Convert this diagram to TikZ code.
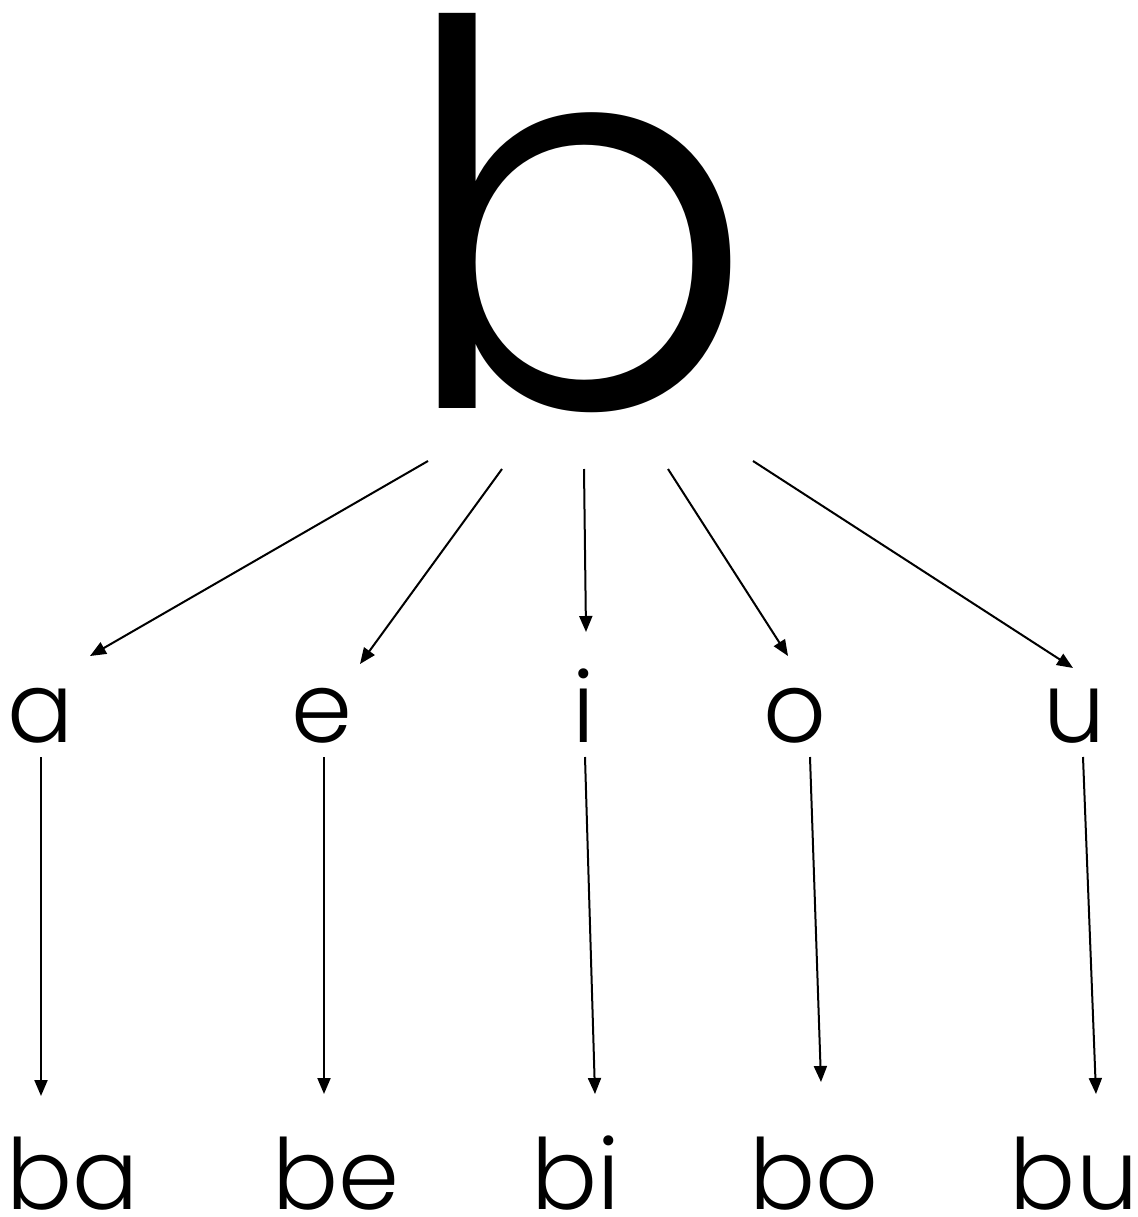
\documentclass[tikz,border=0pt]{standalone}
\usepackage{fontspec}
\setmainfont{Poppins}[UprightFont=* Light]
\usetikzlibrary{arrows.meta}
\tikzset{
  >={Triangle[length=16pt,width=13pt]},
  syl/.style={inner sep=0pt,anchor=base,font=\fontsize{98}{98}\selectfont},
  root/.style={inner sep=0pt,anchor=base,font=\fontsize{534}{534}\selectfont},
  edge/.style={->,line width=2pt},
}
\begin{document}
\begin{tikzpicture}[x=1pt,y=-1pt]
  \useasboundingbox (0,0) rectangle (1137,1217);
  \node[root] (b) at (577,408) {b};
  % vowels and syllables
  \foreach \v/\x/\bx in {a/41/73,e/322/336,i/584/576,o/795/814,u/1075/1074} {
    \node[syl] (\v) at (\x,742) {\v};
    \node[syl] (b\v) at (\bx,1209) {b\v};
  }
  % arrows from b to the vowels
  \foreach \v/\sx/\sy/\ex/\ey in {a/428/461/90/656,e/502/469/360/664,i/584/469/586/632,o/668/469/788/656,u/753/461/1073/668} {
    \coordinate (s\v) at (\sx,\sy);
    \coordinate (t\v) at (\ex,\ey);
    \draw[edge] (s\v) -- (t\v);
  }
  % arrows from the vowels to the syllables
  \foreach \v/\sx/\ex/\ey in {a/41/41/1096,e/324/324/1094,i/585/595/1094,o/810/821/1082,u/1083/1096/1094} {
    \coordinate (d\v) at (\sx,757);
    \coordinate (f\v) at (\ex,\ey);
    \draw[edge] (d\v) -- (f\v);
  }
\end{tikzpicture}
\end{document}
